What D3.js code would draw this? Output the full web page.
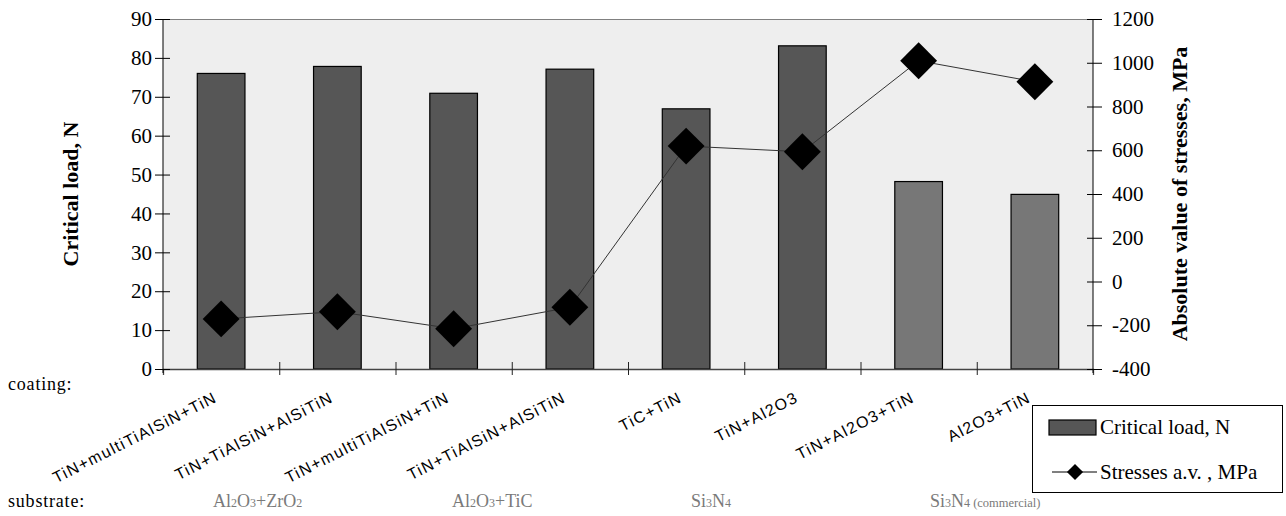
<!DOCTYPE html>
<html>
<head>
<meta charset="utf-8">
<script src="https://cdn.jsdelivr.net/npm/d3@7"></script>
<style>
  html, body { margin: 0; padding: 0; background: #ffffff; }
  svg { display: block; }
</style>
</head>
<body>
<svg id="chart" width="1286" height="516"></svg>
<script>
// ---- data ----
const categories = [
  "TiN+multiTiAlSiN+TiN",
  "TiN+TiAlSiN+AlSiTiN",
  "TiN+multiTiAlSiN+TiN ",
  "TiN+TiAlSiN+AlSiTiN ",
  "TiC+TiN",
  "TiN+Al2O3",
  "TiN+Al2O3+TiN",
  "Al2O3+TiN"
];
const criticalLoad = [76.0, 77.8, 70.9, 77.1, 66.9, 83.1, 48.2, 44.9];
const stresses = [-171, -138, -216, -118, 619, 593, 1009, 913];
const barShade = ["dark", "dark", "dark", "dark", "dark", "dark", "light", "light"];
const leftTicks = [0, 10, 20, 30, 40, 50, 60, 70, 80, 90];
const rightTicks = [-400, -200, 0, 200, 400, 600, 800, 1000, 1200];
// substrate groups: label parts (0 normal, 1 subscript, 2 small), covered category indices
const substrateGroups = [
  { parts: [["Al", 0], ["2", 1], ["O", 0], ["3", 1], ["+ZrO", 0], ["2", 1]], from: 0, to: 1 },
  { parts: [["Al", 0], ["2", 1], ["O", 0], ["3", 1], ["+TiC", 0]], from: 2, to: 3 },
  { parts: [["Si", 0], ["3", 1], ["N", 0], ["4", 1]], from: 4, to: 5 },
  { parts: [["Si", 0], ["3", 1], ["N", 0], ["4", 1], [" (commercial)", 2]], from: 6, to: 7 }
];
const leftTitle = "Critical load, N";
const rightTitle = "Absolute value of stresses, MPa";
const legendLabels = ["Critical load, N", "Stresses a.v. , MPa"];

// ---- layout ----
const plot = { left: 163, right: 1093, top: 19, bottom: 369 };
const svg = d3.select("#chart");
const serif = "'Liberation Serif', 'Times New Roman', serif";
const sans = "'Liberation Sans', Arial, sans-serif";

const x = d3.scaleBand().domain(categories).range([plot.left, plot.right])
  .paddingInner(0.59).paddingOuter(0.295);
const xb = d3.scaleLinear().domain([0, categories.length]).range([plot.left, plot.right]);
const yL = d3.scaleLinear().domain([0, 90]).range([plot.bottom, plot.top]);
const yR = d3.scaleLinear().domain([-400, 1200]).range([plot.bottom, plot.top]);
const subX = d3.scaleLinear().domain([0, substrateGroups.length - 1]).range([213, 930]);

// plot background
svg.append("rect")
  .attr("x", plot.left).attr("y", plot.top)
  .attr("width", plot.right - plot.left).attr("height", plot.bottom - plot.top)
  .attr("fill", "#eeeeee");
svg.append("line")
  .attr("x1", plot.left).attr("x2", plot.right)
  .attr("y1", plot.top + 0.5).attr("y2", plot.top + 0.5)
  .attr("stroke", "#808080").attr("stroke-width", 1);

// bars
svg.append("g").selectAll("rect")
  .data(categories)
  .join("rect")
  .attr("x", d => x(d))
  .attr("y", (d, i) => yL(criticalLoad[i]))
  .attr("width", x.bandwidth())
  .attr("height", (d, i) => yL(0) - yL(criticalLoad[i]))
  .attr("fill", (d, i) => barShade[i] === "dark" ? "#565656" : "#777777")
  .attr("stroke", "#000")
  .attr("stroke-width", 1.2);

// bottom axis (category boundaries)
const gx = svg.append("g").attr("transform", `translate(0,${plot.bottom})`)
  .call(d3.axisBottom(xb).tickValues(d3.range(1, categories.length)).tickSize(6).tickFormat(""));
gx.select(".domain").attr("stroke", "#444").attr("stroke-width", 1.3);
gx.selectAll(".tick line").attr("y1", -7).attr("y2", 6).attr("stroke", "#222");

// left axis
const gl = svg.append("g").attr("transform", `translate(${plot.left},0)`)
  .call(d3.axisLeft(yL).tickValues(leftTicks).tickSize(8).tickPadding(3).tickFormat(d => String(d)));
gl.select(".domain").attr("stroke", "#000").attr("d", `M0,${plot.top}V${plot.bottom + 4}`);
gl.selectAll(".tick line").attr("x1", 7).attr("x2", -8).attr("stroke", "#000");
gl.selectAll(".tick text").attr("font-family", serif).attr("font-size", 21).attr("fill", "#000");

// right axis
const gr = svg.append("g").attr("transform", `translate(${plot.right},0)`)
  .call(d3.axisRight(yR).tickValues(rightTicks).tickSize(9).tickPadding(10).tickFormat(d => String(d)));
gr.select(".domain").attr("stroke", "#000").attr("d", `M0,${plot.top}V${plot.bottom + 4}`);
gr.selectAll(".tick line").attr("x1", -6).attr("x2", 9).attr("stroke", "#000");
gr.selectAll(".tick text").attr("font-family", serif).attr("font-size", 21).attr("fill", "#000");

// stress line
const line = d3.line()
  .x((d, i) => x(categories[i]) + x.bandwidth() / 2)
  .y(d => yR(d));
svg.append("path").datum(stresses)
  .attr("d", line)
  .attr("fill", "none").attr("stroke", "#333").attr("stroke-width", 1);

const diamond = d3.symbol().type(d3.symbolSquare).size(680);
svg.append("g").selectAll("path")
  .data(stresses)
  .join("path")
  .attr("d", diamond)
  .attr("transform", (d, i) => `translate(${x(categories[i]) + x.bandwidth() / 2},${yR(d)}) rotate(45)`)
  .attr("fill", "#000");

// category labels
svg.append("g").selectAll("text")
  .data(categories)
  .join("text")
  .attr("transform", d => `translate(${x(d) + x.bandwidth() / 2 - 3},${plot.bottom + 32}) rotate(-27)`)
  .attr("text-anchor", "end")
  .attr("font-family", sans).attr("font-size", 16).attr("letter-spacing", 1.4)
  .attr("fill", "#000")
  .text(d => d.trim());

// axis titles
svg.append("text")
  .attr("transform", `translate(78,${(plot.top + plot.bottom) / 2}) rotate(-90)`)
  .attr("text-anchor", "middle")
  .attr("font-family", serif).attr("font-weight", "bold").attr("font-size", 22)
  .text(leftTitle);
svg.append("text")
  .attr("transform", `translate(1187,${(plot.top + plot.bottom) / 2}) rotate(-90)`)
  .attr("text-anchor", "middle")
  .attr("font-family", serif).attr("font-weight", "bold").attr("font-size", 22)
  .text(rightTitle);

// row captions
svg.append("text").attr("x", 8).attr("y", 390)
  .attr("font-family", serif).attr("font-size", 18).attr("letter-spacing", 0.8)
  .text("coating:");
svg.append("text").attr("x", 8).attr("y", 507)
  .attr("font-family", serif).attr("font-size", 18).attr("letter-spacing", 0.8)
  .text("substrate:");

// substrate labels
substrateGroups.forEach((g, i) => {
  const t = svg.append("text")
    .attr("x", subX(i)).attr("y", 507)
    .attr("font-family", serif).attr("font-size", 18).attr("fill", "#7a7a7a");
  g.parts.forEach(([s, kind]) => {
    const ts = t.append("tspan").text(s);
    if (kind === 1) ts.attr("font-size", 12);
    if (kind === 2) ts.attr("font-size", 12.5);
  });
});

// legend
const lg = svg.append("g");
lg.append("rect").attr("x", 1032.5).attr("y", 405.5).attr("width", 250).attr("height", 87)
  .attr("fill", "#fff").attr("stroke", "#000").attr("stroke-width", 1);
lg.append("rect").attr("x", 1049).attr("y", 420).attr("width", 47).attr("height", 15)
  .attr("fill", "#565656").attr("stroke", "#000").attr("stroke-width", 1.2);
lg.append("text").attr("x", 1100).attr("y", 434)
  .attr("font-family", serif).attr("font-size", 21).text(legendLabels[0]);
lg.append("line").attr("x1", 1052).attr("x2", 1097).attr("y1", 472).attr("y2", 472)
  .attr("stroke", "#000").attr("stroke-width", 1);
lg.append("path").attr("d", d3.symbol().type(d3.symbolSquare).size(130))
  .attr("transform", "translate(1075,472) rotate(45)").attr("fill", "#000");
lg.append("text").attr("x", 1100).attr("y", 479)
  .attr("font-family", serif).attr("font-size", 21).text(legendLabels[1]);
</script>
</body>
</html>
